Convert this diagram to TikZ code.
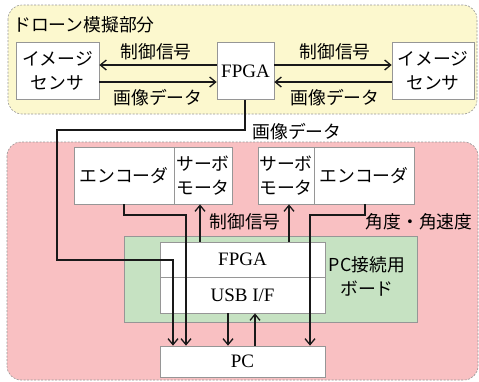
\documentclass[tikz,border=0pt]{standalone}
\usepackage{fontspec}
\setmainfont{Liberation Serif}
\newfontfamily\jp{Noto Sans CJK JP}
\usetikzlibrary{arrows.meta,calc}
\definecolor{yel}{RGB}{252,248,206}
\definecolor{pinkr}{RGB}{249,192,194}
\definecolor{grn}{RGB}{198,226,194}
\definecolor{edgegray}{RGB}{150,150,150}
\begin{document}
\begin{tikzpicture}[x=1pt,y=-1pt,
  region/.style={draw=edgegray,dash pattern=on 2pt off 1.5pt,line width=0.6pt,rounded corners=14pt},
  box/.style={draw=edgegray,fill=white,line width=0.7pt,inner sep=0pt,align=center},
  jtext/.style={font=\jp\fontsize{17.8}{24}\selectfont,inner sep=0pt,align=center},
  ltext/.style={font=\fontsize{19}{22}\selectfont,inner sep=0pt},
  conn/.style={line width=1.5pt,draw=black!90},
  arr/.style={conn,-{Straight Barb[length=6pt,width=10pt,line width=1.3pt]}}]
\useasboundingbox (0,0) rectangle (479,381);
% regions
\draw[region,fill=yel] (8,5) rectangle (477,114);
\draw[region,fill=pinkr] (7,142) rectangle (478,380);
\node[jtext,anchor=west] (title) at (13,25) {ドローン模擬部分};
% top boxes
\node[box,minimum width=83pt,minimum height=57pt] (ls) at (57.5,71) {};
\node[jtext] (lst) at (ls.center) {イメージ\\センサ};
\node[box,minimum width=57pt,minimum height=57pt] (fp) at (245.5,71) {};
\node[ltext] (fpt) at (fp.center) {FPGA};
\node[box,minimum width=82pt,minimum height=57pt] (rs) at (433,71) {};
\node[jtext] (rst) at (rs.center) {イメージ\\センサ};
\draw[arr] ([yshift=6pt]fp.west) -- ([yshift=6pt]ls.east);
\draw[arr] ([yshift=-11pt]ls.east) -- ([yshift=-11pt]fp.west);
\draw[arr] ([yshift=6pt]fp.east) -- ([yshift=6pt]rs.west);
\draw[arr] ([yshift=-11pt]rs.west) -- ([yshift=-11pt]fp.east);
\node[jtext] (l1) at (156,52) {制御信号};
\node[jtext] (l2) at (158,98) {画像データ};
\node[jtext] (l3) at (335,52) {制御信号};
\node[jtext] (l4) at (335,98) {画像データ};
% encoder / servo boxes
\node[box,minimum width=100pt,minimum height=57pt] (enc1) at (124,175.5) {};
\node[jtext] at (enc1.center) {エンコーダ};
\node[box,minimum width=58pt,minimum height=57pt] (sv1) at (203,175.5) {};
\node[jtext] at (sv1.center) {サーボ\\モータ};
\node[box,minimum width=56pt,minimum height=57pt] (sv2) at (286,175.5) {};
\node[jtext] at (sv2.center) {サーボ\\モータ};
\node[box,minimum width=100pt,minimum height=57pt] (enc2) at (364,175.5) {};
\node[jtext] at (enc2.center) {エンコーダ};
% board
\node[draw=edgegray,fill=grn,line width=0.7pt,minimum width=293pt,minimum height=86pt,inner sep=0pt] (board) at (270.5,279) {};
\node[box,minimum width=165pt,minimum height=35pt] (bf) at (242.5,259.5) {};
\node[ltext] at (bf.center) {FPGA};
\node[box,minimum width=165pt,minimum height=36pt] (usb) at (242.5,295) {};
\node[ltext] at (usb.center) {USB I/F};
\node[jtext] (bl) at (367,276) {PC接続用\\ボード};
\node[box,minimum width=165pt,minimum height=31pt] (pc) at (242.5,361.5) {};
\node[ltext] at (pc.center) {PC};
% labels
\node[jtext] (l5) at (297,132) {画像データ};
\node[jtext] (l6) at (245,222) {制御信号};
\node[jtext] (l7) at (419,222) {角度・角速度};
% connectors
\coordinate (a1) at (245,130);
\coordinate (a2) at (57,130);
\coordinate (a3) at (57,260);
\coordinate (a4) at (173,260);
\draw[arr] (fp.south -| a1) -- (a1) -- (a2) -- (a3) -- (a4) -- (a4 |- pc.north);
\coordinate (b1) at (124,215);
\coordinate (b2) at (186,215);
\draw[arr] (enc1.south -| b1) -- (b1) -- (b2) -- (b2 |- pc.north);
\coordinate (c1) at (365,215);
\coordinate (c2) at (310,215);
\draw[arr] (enc2.south -| c1) -- (c1) -- (c2) -- (c2 |- pc.north);
\coordinate (d1) at (200,230);
\coordinate (d2) at (289,230);
\draw[arr] (bf.north -| d1) -- (sv1.south -| d1);
\draw[arr] (bf.north -| d2) -- (sv2.south -| d2);
\coordinate (e1) at (228,330);
\coordinate (e2) at (255,330);
\draw[arr] (usb.south -| e1) -- (pc.north -| e1);
\draw[arr] (pc.north -| e2) -- (usb.south -| e2);
\end{tikzpicture}
\end{document}
